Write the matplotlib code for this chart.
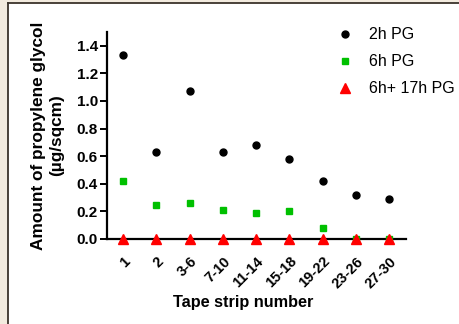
#!/usr/bin/env python3

import matplotlib
matplotlib.use('Agg')
import matplotlib.pyplot as plt
from matplotlib.patches import Rectangle

STRIPS = ['1', '2', '3-6', '7-10', '11-14', '15-18', '19-22', '23-26', '27-30']

PG_2H = [1.33, 0.63, 1.07, 0.63, 0.68, 0.58, 0.42, 0.32, 0.29]
PG_6H = [0.42, 0.25, 0.26, 0.21, 0.19, 0.20, 0.08, 0.0, 0.0]
PG_6H_17H = [0.0, 0.0, 0.0, 0.0, 0.0, 0.0, 0.0, 0.0, 0.0]

LABELS = ['2h PG', '6h PG', '6h+ 17h PG']


def main():
    plt.rcParams['font.family'] = ['Liberation Sans', 'DejaVu Sans']

    fig = plt.figure(figsize=(4.59, 3.24), dpi=100)
    fig.patch.set_facecolor('#f3ebdf')

    # white panel with dark border on left / top
    panel = Rectangle((7.5 / 459, 0), 1.0, 1 - 2.5 / 324, transform=fig.transFigure,
                      facecolor='white', edgecolor='none', zorder=-5)
    fig.add_artist(panel)
    fig.add_artist(plt.Line2D([7.5 / 459, 7.5 / 459], [0, 1 - 2.5 / 324], color='#3b332b',
                              lw=1.3, transform=fig.transFigure, zorder=-4))
    fig.add_artist(plt.Line2D([7.5 / 459, 1], [1 - 2.5 / 324, 1 - 2.5 / 324], color='#3b332b',
                              lw=1.3, transform=fig.transFigure, zorder=-4))

    ax = fig.add_axes([107 / 459, 1 - 239 / 324, (406 - 107) / 459, (239 - 32) / 324])
    ax.set_facecolor('none')

    xs = list(range(len(STRIPS)))
    h1, = ax.plot(xs, PG_2H, 'o', color='black', ms=5, clip_on=False, zorder=3)
    h2, = ax.plot(xs, PG_6H, 's', color='#00c000', ms=5, clip_on=False, zorder=4)
    h3, = ax.plot(xs, PG_6H_17H, '^', color='#ff0000', ms=6.8, clip_on=False, zorder=5)

    ax.set_xlim(-0.48, 8.5)
    ax.set_ylim(0, 1.5)
    ax.set_yticks([0.0, 0.2, 0.4, 0.6, 0.8, 1.0, 1.2, 1.4])
    ax.set_yticklabels(['%.1f' % v for v in ax.get_yticks()], fontweight='bold', fontsize=11)
    ax.set_xticks(xs)
    ax.set_xticklabels(STRIPS, rotation=45, ha='right', rotation_mode='anchor',
                       fontweight='bold', fontsize=10.5)

    for side in ['top', 'right']:
        ax.spines[side].set_visible(False)
    for side in ['left', 'bottom']:
        ax.spines[side].set_linewidth(1.6)
    ax.tick_params(axis='y', width=1.4, length=5, pad=1.5)
    ax.tick_params(axis='x', width=1.4, length=4, pad=7)

    ax.set_ylabel('Amount of propylene glycol\n(µg/sqcm)', fontweight='bold', fontsize=12.4,
                  labelpad=9, linespacing=1.3)
    ax.set_xlabel('Tape strip number', fontweight='bold', fontsize=11.7)
    # label sits a little left of the axis centre in the original
    ax.xaxis.set_label_coords(0.455, -0.27)

    fig.legend([h1, h2, h3], LABELS, loc='upper left', bbox_to_anchor=(331 / 459, 1 - 21 / 324),
               frameon=False, fontsize=11.5, handlelength=1.0, handletextpad=1.0,
               labelspacing=0.75, borderaxespad=0)

    fig.savefig('out.png', dpi=100, facecolor=fig.get_facecolor())


if __name__ == '__main__':
    main()
